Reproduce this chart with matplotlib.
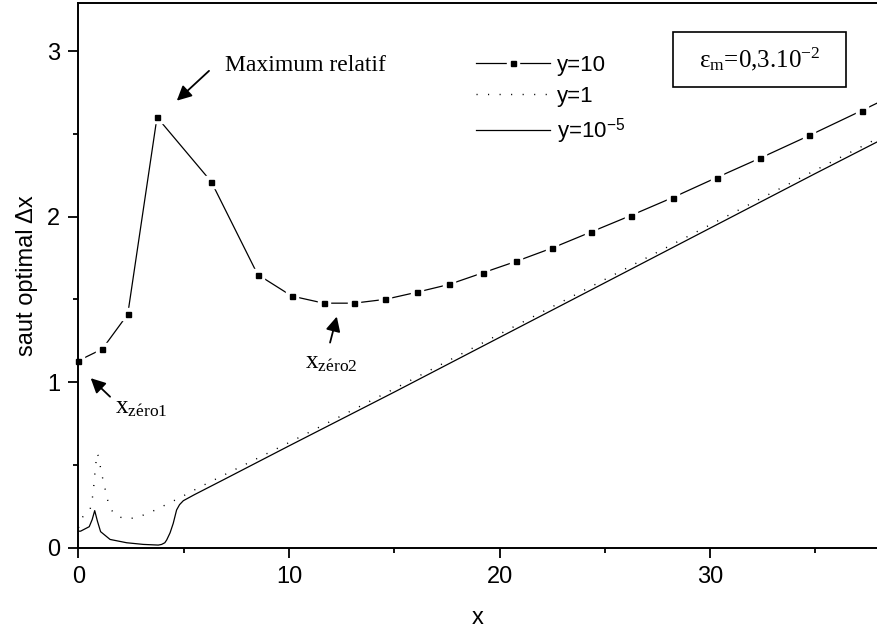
import matplotlib
matplotlib.use("Agg")
import matplotlib.pyplot as plt
from matplotlib.patches import Rectangle
from matplotlib.ticker import MultipleLocator

plt.rcParams["font.family"] = ["Liberation Sans", "DejaVu Sans"]
plt.rcParams["mathtext.fontset"] = "custom"
plt.rcParams["mathtext.rm"] = "Liberation Serif"
plt.rcParams["mathtext.it"] = "Liberation Serif:italic"
plt.rcParams["mathtext.sf"] = "Liberation Sans"

# y = 10 (square markers)
x_y10 = [0.0, 1.13, 2.34, 3.73, 6.31, 8.51, 10.13, 11.65, 13.09, 14.57, 16.07,
         17.6, 19.2, 20.8, 22.5, 24.33, 26.23, 28.23, 30.32, 32.38, 34.72, 37.2, 39.8]
d_y10 = [1.13, 1.20, 1.41, 2.60, 2.21, 1.65, 1.52, 1.477, 1.477, 1.50, 1.543,
         1.59, 1.66, 1.73, 1.81, 1.906, 2.006, 2.115, 2.236, 2.353, 2.49, 2.64, 2.80]

# y = 1 (dotted)
x_y1 = [0.0, 0.15, 0.4, 0.55, 0.66, 0.72, 0.8, 0.88, 0.96, 1.05, 1.18, 1.31, 1.43,
        1.69, 2.18, 2.73, 3.24, 3.76, 4.27, 4.79, 5.30, 5.82, 10, 15, 20, 25, 30, 35, 38]
d_y1 = [0.12, 0.18, 0.21, 0.23, 0.30, 0.365, 0.48, 0.57, 0.55, 0.48, 0.40, 0.33, 0.264,
        0.20, 0.175, 0.18, 0.205, 0.234, 0.268, 0.30, 0.335, 0.37, 0.635, 0.96, 1.29,
        1.62, 1.95, 2.28, 2.475]

# y = 1e-5 (solid)
x_y5 = [0.0, 0.1, 0.51, 0.65, 0.77, 0.9, 1.05, 1.5, 2.29, 3.08, 3.79, 3.95, 4.1, 4.19,
        4.35, 4.5, 4.66, 4.8, 4.98, 5.5, 6.88, 10, 15, 20, 25, 30, 35, 38]
d_y5 = [0.10, 0.10, 0.127, 0.17, 0.224, 0.16, 0.097, 0.05, 0.03, 0.02, 0.016, 0.02,
        0.03, 0.047, 0.09, 0.147, 0.228, 0.26, 0.284, 0.32, 0.41, 0.615, 0.94, 1.27,
        1.60, 1.93, 2.26, 2.455]

labels = ["y=10", "y=1", r"y=10$^{\mathsf{-5}}$"]

fig = plt.figure(figsize=(8.77, 6.36), dpi=100)
ax = fig.add_axes([0.0895, 0.1388, 0.9105, 0.8565])

# y=10 : line broken around each marker (white halo under black squares)
l10, = ax.plot(x_y10, d_y10, color="black", lw=0.9, zorder=2)
h10, = ax.plot(x_y10, d_y10, ls="none", marker="s", ms=9, mfc="white", mec="white",
               zorder=2.1)
m10, = ax.plot(x_y10, d_y10, ls="none", marker="s", ms=3.6, mfc="black", mec="black",
               zorder=2.2, clip_on=False)
l1, = ax.plot(x_y1, d_y1, color="black", lw=1.0, ls=(0, (0.8, 7.5)))
l5, = ax.plot(x_y5, d_y5, color="black", lw=0.9)

ax.set_xlim(0, 37.93)
ax.set_ylim(0, 3.29)
ax.xaxis.set_major_locator(MultipleLocator(10))
ax.xaxis.set_minor_locator(MultipleLocator(5))
ax.yaxis.set_major_locator(MultipleLocator(1))
ax.yaxis.set_minor_locator(MultipleLocator(0.5))
ax.tick_params(which="major", direction="out", length=7, width=1.3, labelsize=17, pad=6)
ax.tick_params(which="minor", direction="out", length=3.8, width=1.3)
ax.spines["right"].set_visible(False)
for s in ["left", "bottom", "top"]:
    ax.spines[s].set_linewidth(1.4)
    ax.spines[s].set_zorder(3)

ax.set_xlabel("x", fontsize=17, labelpad=14)
ax.set_ylabel("saut optimal \u0394x", fontsize=17, labelpad=7)

ax.legend([(l10, h10, m10), l1, l5], labels, loc="upper left",
          bbox_to_anchor=(0.498, 0.905), frameon=False, fontsize=16,
          handlelength=3.33, handletextpad=0.32, labelspacing=0.45, borderpad=0,
          borderaxespad=0)

# parameter box
ax.add_patch(Rectangle((0.7445, 0.8458), 0.2167, 0.101, transform=ax.transAxes,
                       fc="white", ec="black", lw=1.2, zorder=4))
ax.text(0.853, 0.8963, r"ε$_{\mathrm{m}}$=0,3.10$^{\mathrm{-2}}$", transform=ax.transAxes,
        fontsize=18, ha="center", va="center", family="Liberation Serif", zorder=5)

arrow = dict(arrowstyle="-|>", mutation_scale=22, color="black", lw=1.3,
             shrinkA=0, shrinkB=0)
ax.annotate("", xy=(4.67, 2.70), xytext=(6.2, 2.88), arrowprops=arrow)
ax.text(6.96, 2.88, "Maximum relatif", family="Liberation Serif", fontsize=17,
        va="baseline")
ax.annotate("", xy=(0.58, 1.024), xytext=(1.50, 0.912), arrowprops=arrow)
ax.text(1.73, 0.814, r"x$_{\mathrm{z\'ero1}}$", family="Liberation Serif", fontsize=18,
        va="baseline")
ax.annotate("", xy=(12.27, 1.396), xytext=(11.95, 1.239), arrowprops=arrow)
ax.text(10.76, 1.086, r"x$_{\mathrm{z\'ero2}}$", family="Liberation Serif", fontsize=18,
        va="baseline")

fig.savefig("out.png", dpi=100)
